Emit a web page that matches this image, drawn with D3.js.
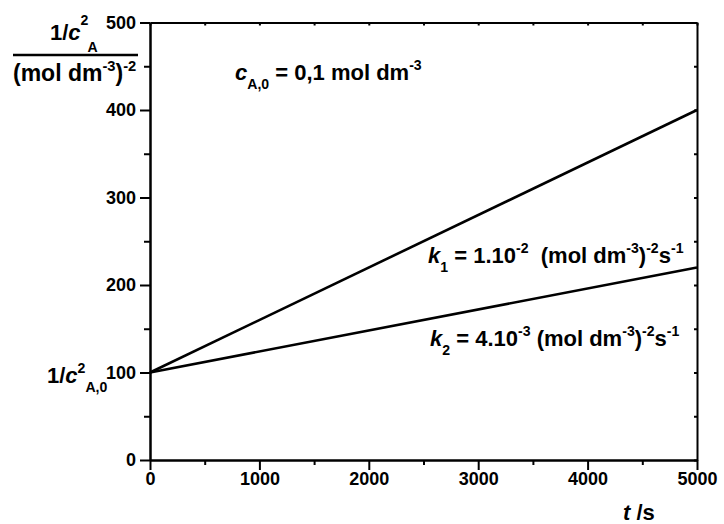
<!DOCTYPE html>
<html>
<head>
<meta charset="utf-8">
<script src="https://cdn.jsdelivr.net/npm/d3@7"></script>
<style>
  html, body { margin: 0; padding: 0; background: #fff; }
  svg { display: block; }
  text { font-family: "Liberation Sans", Arial, sans-serif; font-weight: bold; fill: #000; white-space: pre; }
</style>
</head>
<body>
<script>
// Time axis (s) and the two straight lines 1/c_A^2 versus t
const times = [0, 5000];
const lineK1 = [100, 400];
const lineK2 = [100, 220];
const xTicks = [0, 1000, 2000, 3000, 4000, 5000];
const xMinorTicks = [500, 1500, 2500, 3500, 4500];
const yTicks = [0, 100, 200, 300, 400, 500];
const yMinorTicks = [50, 150, 250, 350, 450];

const W = 724, H = 524;
const plot = { left: 150, right: 697, top: 22.5, bottom: 460 };

const svg = d3.select("body").append("svg").attr("width", W).attr("height", H);

const x = d3.scaleLinear().domain([0, 5000]).range([plot.left, plot.right]);
const y = d3.scaleLinear().domain([0, 500]).range([plot.bottom, plot.top]);

function styleAxis(g) {
  g.selectAll("path.domain").attr("stroke", "#000").attr("stroke-width", 2);
  g.selectAll(".tick line").attr("stroke", "#000").attr("stroke-width", 2);
  g.selectAll(".tick text")
    .style("font-family", '"Liberation Sans", Arial, sans-serif')
    .style("font-weight", "bold").style("font-size", "18px").attr("fill", "#000");
}

// minor ticks (outward on left/bottom)
svg.append("g").attr("transform", `translate(0,${plot.bottom})`)
  .call(d3.axisBottom(x).tickValues(xMinorTicks).tickSize(5).tickSizeOuter(0).tickFormat(""))
  .call(styleAxis);
svg.append("g").attr("transform", `translate(${plot.left},0)`)
  .call(d3.axisLeft(y).tickValues(yMinorTicks).tickSize(6).tickSizeOuter(0).tickFormat(""))
  .call(styleAxis);

// inward ticks on the top and right frame
svg.append("g").attr("transform", `translate(0,${plot.top})`)
  .call(d3.axisTop(x).tickValues(xTicks.concat(xMinorTicks)).tickSize(-3).tickSizeOuter(0).tickFormat(""))
  .call(styleAxis);
svg.append("g").attr("transform", `translate(${plot.right},0)`)
  .call(d3.axisRight(y).tickValues(yTicks.concat(yMinorTicks)).tickSize(-3).tickSizeOuter(0).tickFormat(""))
  .call(styleAxis);

// major axes with labels
svg.append("g").attr("transform", `translate(0,${plot.bottom})`)
  .call(d3.axisBottom(x).tickValues(xTicks).tickSize(10).tickSizeOuter(0).tickPadding(2).tickFormat(d3.format("d")))
  .call(styleAxis);
svg.append("g").attr("transform", `translate(${plot.left},0)`)
  .call(d3.axisLeft(y).tickValues(yTicks).tickSize(10).tickSizeOuter(0).tickPadding(4).tickFormat(d3.format("d")))
  .call(styleAxis);

// data lines
const line = d3.line().x((d, i) => x(times[i])).y(d => y(d));
[lineK1, lineK2].forEach(s => {
  svg.append("path").datum(s).attr("d", line)
    .attr("fill", "none").attr("stroke", "#000").attr("stroke-width", 2.6);
});

// rich text helper: parts are [text, kind, dx]
function rich(xp, yp, size, parts) {
  const t = svg.append("text").attr("x", xp).attr("y", yp).style("font-size", size + "px");
  let shift = 0;
  parts.forEach(([str, kind, dx]) => {
    const sp = t.append("tspan").text(str);
    let target = 0, fs = size;
    if (kind === "sup") { target = -0.45 * size; fs = 0.64 * size; }
    else if (kind === "sub") { target = 0.42 * size; fs = 0.64 * size; }
    else if (kind === "supHi") { target = -0.68 * size; fs = 0.64 * size; }
    else if (kind === "subLo") { target = 0.55 * size; fs = 0.64 * size; }
    sp.attr("dy", target - shift).style("font-size", fs + "px");
    if (dx) sp.attr("dx", dx);
    if (kind === "it") sp.style("font-style", "italic");
    shift = target;
  });
  return t;
}

// y axis title as a fraction
rich(50, 40, 22, [["1/", null], ["c", "it"], ["2", "supHi"], ["A", "subLo", -1]]);
svg.append("line").attr("x1", 13).attr("x2", 138).attr("y1", 55).attr("y2", 55)
  .attr("stroke", "#000").attr("stroke-width", 2.5);
rich(13, 81, 23, [["(mol dm", null], ["-3", "sup"], [")", null], ["-2", "sup"]]);

// intercept label
rich(47, 383, 22, [["1/", null], ["c", "it"], ["2", "sup"], ["A,0", "sub"]]);

// annotations
rich(235, 80, 22, [["c", "it"], ["A,0", "sub"], [" = 0,1 mol dm", null], ["-3", "sup"]]);
rich(428, 263, 22, [["k", "it"], ["1", "sub"], [" = 1.10", null], ["-2", "sup"], ["  (mol dm", null], ["-3", "sup"], [")", null], ["-2", "sup"], ["s", null], ["-1", "sup"]]);
rich(430, 346, 22, [["k", "it"], ["2", "sub"], [" = 4.10", null], ["-3", "sup"], [" (mol dm", null], ["-3", "sup"], [")", null], ["-2", "sup"], ["s", null], ["-1", "sup"]]);

// x axis title
rich(623, 520, 22, [["t", "it"], [" /s", null]]);
</script>
</body>
</html>
